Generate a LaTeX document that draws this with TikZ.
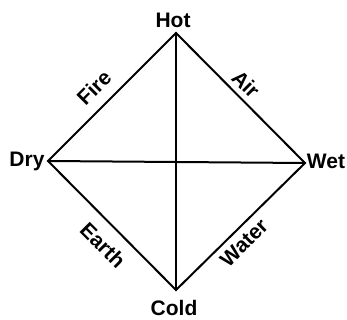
\documentclass[tikz,border=0pt]{standalone}
\usepackage{fontspec}
\setmainfont{Liberation Sans}
\begin{document}
\begin{tikzpicture}[x=1pt,y=-1pt,
  edge/.style={line width=2pt, line cap=round, line join=miter},
  vlabel/.style={font=\bfseries\fontsize{21}{21}\selectfont, inner sep=0pt, anchor=base},
  elabel/.style={font=\bfseries\fontsize{21}{21}\selectfont, inner sep=0pt}]
\useasboundingbox (0,0) rectangle (347,320);
\coordinate (top) at (176,33);
\coordinate (left) at (48,161);
\coordinate (right) at (305,163);
\coordinate (bottom) at (176,290);
\node[vlabel] (hot) at (173,28) {Hot};
\node[vlabel] (dry) at (27,167) {Dry};
\node[vlabel] (wet) at (326,168) {Wet};
\node[vlabel] (cold) at (174,315) {Cold};
\draw[edge] (left) -- (top) -- (right) -- (bottom) -- cycle;
\draw[edge] (top) -- (bottom);
\draw[edge] (left) -- (right);
\node[elabel, rotate=45] (fire) at (94,88) {Fire};
\node[elabel, rotate=-45] (air) at (246,84) {Air};
\node[elabel, rotate=-45] (earth) at (103,245) {Earth};
\node[elabel, rotate=45] (water) at (244,243) {Water};
\end{tikzpicture}
\end{document}
